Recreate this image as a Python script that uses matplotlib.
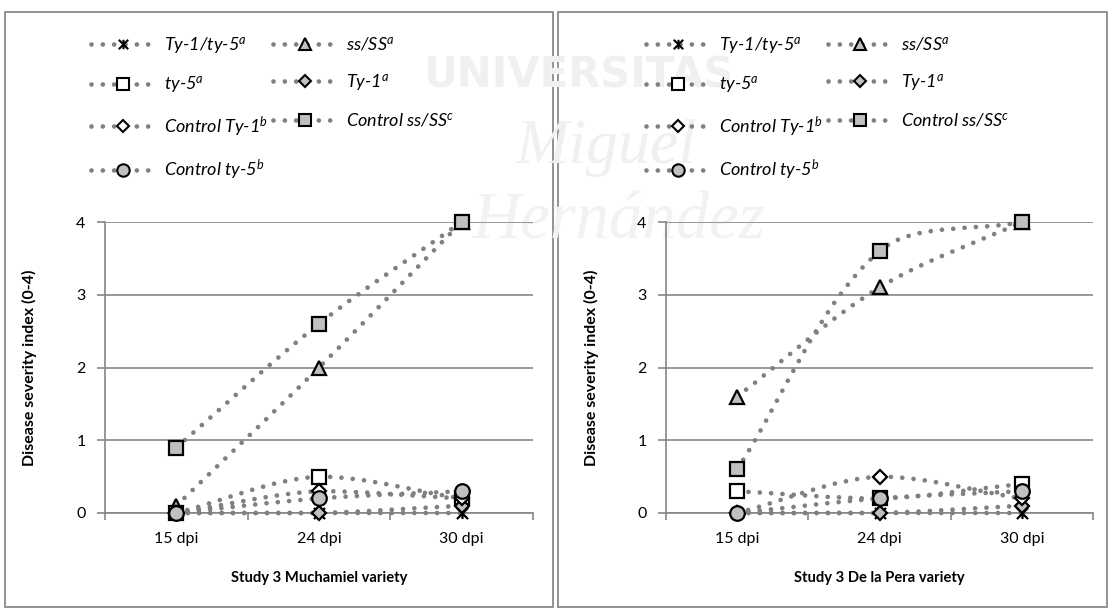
import numpy as np
import matplotlib
matplotlib.use('Agg')
import matplotlib.pyplot as plt
from matplotlib.path import Path
from matplotlib.patches import PathPatch, Rectangle
from matplotlib.lines import Line2D

plt.rcParams['font.family'] = ['Lato', 'DejaVu Sans']
plt.rcParams['mathtext.fontset'] = 'custom'
plt.rcParams['mathtext.it'] = 'Lato:italic'
plt.rcParams['mathtext.rm'] = 'Lato'

days = ['15 dpi', '24 dpi', '30 dpi']
series = ['Ty-1/ty-5', 'ss/SS', 'ty-5', 'Ty-1',
          'Control Ty-1', 'Control ss/SS', 'Control ty-5']
sup = ['a', 'a', 'a', 'a', 'b', 'c', 'b']

muchamiel = {
    'Ty-1/ty-5':     [0.0, 0.0, 0.0],
    'ss/SS':         [0.1, 2.0, 4.0],
    'ty-5':          [0.0, 0.5, 0.2],
    'Ty-1':          [0.0, 0.0, 0.1],
    'Control Ty-1':  [0.0, 0.3, 0.2],
    'Control ss/SS': [0.9, 2.6, 4.0],
    'Control ty-5':  [0.0, 0.2, 0.3],
}
de_la_pera = {
    'Ty-1/ty-5':     [0.0, 0.0, 0.0],
    'ss/SS':         [1.6, 3.1, 4.0],
    'ty-5':          [0.3, 0.2, 0.4],
    'Ty-1':          [0.0, 0.0, 0.1],
    'Control Ty-1':  [0.0, 0.5, 0.2],
    'Control ss/SS': [0.6, 3.6, 4.0],
    'Control ty-5':  [0.0, 0.2, 0.3],
}

# X with a vertical bar, like the spreadsheet "star" marker
star = Path([(-1, -1), (1, 1), (-1, 1), (1, -1), (0, -1), (0, 1)],
            [Path.MOVETO, Path.LINETO, Path.MOVETO, Path.LINETO,
             Path.MOVETO, Path.LINETO])

GREY = '#808080'
FILL = '#c0c0c0'
styles = {
    'Ty-1/ty-5':     dict(marker=star, mfc='none', ms=8),
    'ss/SS':         dict(marker='^', mfc=FILL, ms=10),
    'ty-5':          dict(marker='s', mfc='white', ms=9.5),
    'Ty-1':          dict(marker='D', mfc=FILL, ms=7.5),
    'Control Ty-1':  dict(marker='D', mfc='white', ms=7.5),
    'Control ss/SS': dict(marker='s', mfc=FILL, ms=9.5),
    'Control ty-5':  dict(marker='o', mfc=FILL, ms=10.5),
}
DOTS = (0, (0.001, 2.4))
FS = 11.5


def smooth_path(ax, x, y):
    # smoothed line through the points: bezier control points weighted by
    # the on-screen length of the neighbouring segments
    fig_w, fig_h = ax.figure.get_size_inches()
    pos = ax.get_position()
    sx = pos.width * fig_w / np.ptp(ax.get_xlim())
    sy = pos.height * fig_h / np.ptp(ax.get_ylim())
    p = np.column_stack([np.asarray(x, float) * sx, np.asarray(y, float) * sy])
    n = len(p)
    c_out = [None] * n
    c_in = [None] * n
    for i in range(1, n - 1):
        d0 = np.hypot(*(p[i] - p[i - 1]))
        d1 = np.hypot(*(p[i + 1] - p[i]))
        t = p[i + 1] - p[i - 1]
        c_in[i] = p[i] - t * d0 / (d0 + d1) / 3
        c_out[i] = p[i] + t * d1 / (d0 + d1) / 3
    c_out[0] = p[0] + (p[1] - p[0]) / 3
    c_in[-1] = p[-1] - (p[-1] - p[-2]) / 3
    verts = [p[0]]
    codes = [Path.MOVETO]
    for i in range(n - 1):
        lo, hi = sorted([p[i, 1], p[i + 1, 1]])
        c1 = c_out[i].copy()
        c2 = c_in[i + 1].copy()
        c1[1] = np.clip(c1[1], lo, hi)
        c2[1] = np.clip(c2[1], lo, hi)
        verts += [c1, c2, p[i + 1]]
        codes += [Path.CURVE4] * 3
    verts = np.array(verts) / [sx, sy]
    return Path(verts, codes)


def draw_panel(ax, data, title, leg_x):
    x = np.arange(len(days))
    ax.set_xlim(-0.5, 2.5)
    ax.set_ylim(0, 4)
    for name in series:
        st = styles[name]
        patch = PathPatch(smooth_path(ax, x, data[name]), fill=False,
                          edgecolor=GREY, linewidth=3.4, linestyle=DOTS,
                          capstyle='round', zorder=3, clip_on=False)
        ax.add_patch(patch)
        ax.plot(x, data[name], linestyle='none', marker=st['marker'],
                markersize=st['ms'], markerfacecolor=st['mfc'],
                markeredgecolor='black', markeredgewidth=1.6,
                zorder=3, clip_on=False)

    ax.set_xticks(x)
    ax.set_xticklabels(days)
    ax.set_xticks([-0.5, 0.5, 1.5, 2.5], minor=True)
    ax.set_yticks([0, 1, 2, 3, 4])
    ax.tick_params(axis='x', which='major', length=0, pad=14, labelsize=FS)
    ax.tick_params(axis='x', which='minor', length=5, width=1.2,
                   color='#868686', direction='out')
    ax.tick_params(axis='y', length=6, width=1.2, color='#868686',
                   pad=8, labelsize=FS)
    ax.grid(axis='y', color='#868686', linewidth=1.2)
    ax.set_axisbelow(True)
    for s in ['top', 'right']:
        ax.spines[s].set_visible(False)
    for s in ['left', 'bottom']:
        ax.spines[s].set_color('#868686')
        ax.spines[s].set_linewidth(1.2)
    ax.patch.set_alpha(0)

    ax.set_ylabel('Disease severity index (0-4)', fontsize=FS,
                  fontweight='bold')
    ax.set_xlabel(title, fontsize=10.6, fontweight='bold')
    ax.yaxis.set_label_coords(-0.158, 0.5)
    ax.xaxis.set_label_coords(0.5, -0.2)

    # legend, filled row by row in two columns
    handles = {}
    for name, s in zip(series, sup):
        st = styles[name]
        handles[name] = Line2D([], [], color=GREY, linewidth=3.4,
                               linestyle=DOTS, dash_capstyle='round',
                               marker=st['marker'], markersize=st['ms'] * 0.85,
                               markerfacecolor=st['mfc'],
                               markeredgecolor='black', markeredgewidth=1.5,
                               label=name + '$^{' + s + '}$')
    order = ['Ty-1/ty-5', 'ty-5', 'Control Ty-1', 'Control ty-5',
             'ss/SS', 'Ty-1', 'Control ss/SS']
    leg = ax.legend(handles=[handles[n] for n in order], ncol=2,
                    loc='upper left', bbox_to_anchor=(leg_x, 1 - 19 / 615),
                    bbox_transform=ax.figure.transFigure,
                    frameon=False, prop={'size': 13, 'style': 'italic'},
                    handlelength=3.5, handletextpad=0.55,
                    labelspacing=1.05, columnspacing=0.28)
    return leg


fig = plt.figure(figsize=(11.12, 6.15), dpi=100)

# faint university watermark behind the charts
fig.text(0.52, 0.878, 'UNIVERSITAS', fontsize=30, fontweight='bold',
         color='#f0f0f0', ha='center', va='center', zorder=-5,
         family='DejaVu Sans')
fig.text(0.545, 0.76, 'Miguel', fontsize=46, style='italic',
         color='#f0f0f0', ha='center', va='center', zorder=-5,
         family='Liberation Serif')
fig.text(0.557, 0.639, 'Hernández', fontsize=48, style='italic',
         color='#f2f2f2', ha='center', va='center', zorder=-5,
         family='Liberation Serif')

# panel frames
for x0, x1 in [(5, 553), (558, 1107)]:
    fig.patches.append(Rectangle((x0 / 1112, 8 / 615), (x1 - x0) / 1112,
                                 595 / 615, transform=fig.transFigure,
                                 fill=False, edgecolor='#8a8a8a',
                                 linewidth=1.3, zorder=-10))

ax1 = fig.add_axes([105 / 1112, 102 / 615, 428 / 1112, 291 / 615])
ax2 = fig.add_axes([666 / 1112, 102 / 615, 427 / 1112, 291 / 615])
draw_panel(ax1, muchamiel, 'Study 3 Muchamiel variety', 75 / 1112)
draw_panel(ax2, de_la_pera, 'Study 3 De la Pera variety', 630 / 1112)

fig.savefig('out.png', dpi=100)
